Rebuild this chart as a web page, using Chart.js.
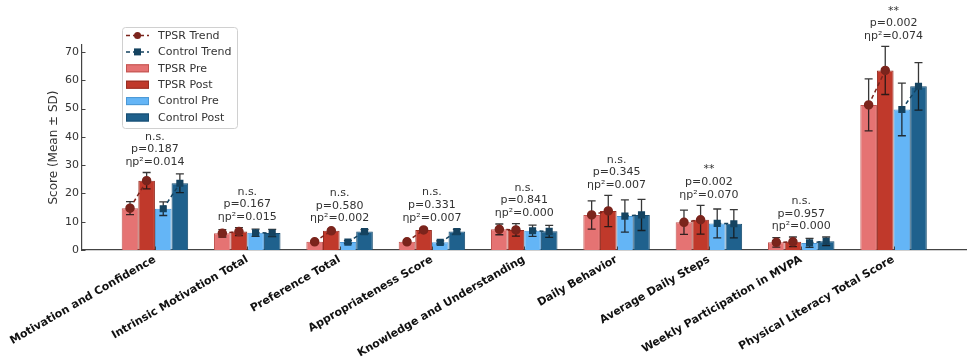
<!DOCTYPE html>
<html>
<head>
<meta charset="utf-8">
<script src="https://cdn.jsdelivr.net/npm/chart.js@4.4.0/dist/chart.umd.min.js"></script>
<style>
  body { margin: 0; background: #fff; }
  #wrap { width: 972px; height: 359px; }
</style>
</head>
<body>
<div id="wrap"><canvas id="grafico" width="972" height="359"></canvas></div>
<script>
// dados
const categorias = ['Motivation and Confidence', 'Intrinsic Motivation Total', 'Preference Total',
  'Appropriateness Score', 'Knowledge and Understanding', 'Daily Behavior', 'Average Daily Steps',
  'Weekly Participation in MVPA', 'Physical Literacy Total Score'];

const tpsrPre = [14.8, 5.9, 2.9, 2.9, 7.3, 12.4, 9.8, 2.7, 51.3];
const tpsrPreSd = [2.3, 1.3, 0.5, 0.5, 1.9, 5.0, 4.3, 1.7, 9.2];
const tpsrPost = [24.5, 6.5, 6.8, 7.1, 7.1, 13.8, 10.7, 2.9, 63.5];
const tpsrPostSd = [2.9, 1.4, 0.6, 0.6, 2.2, 5.5, 5.1, 1.7, 8.5];
const ctrlPre = [14.6, 6.1, 2.8, 2.7, 6.8, 12.0, 9.4, 2.5, 49.7];
const ctrlPreSd = [2.4, 1.3, 0.5, 0.5, 2.0, 5.7, 5.1, 1.6, 9.3];
const ctrlPost = [23.6, 6.0, 6.5, 6.5, 6.6, 12.4, 9.3, 3.1, 57.9];
const ctrlPostSd = [3.3, 1.3, 0.7, 0.8, 2.1, 5.5, 5.0, 1.5, 8.4];

const sig = ['n.s.', 'n.s.', 'n.s.', 'n.s.', 'n.s.', 'n.s.', '**', 'n.s.', '**'];
const pValores = ['0.187', '0.167', '0.580', '0.331', '0.841', '0.345', '0.002', '0.957', '0.002'];
const etaValores = ['0.014', '0.015', '0.002', '0.007', '0.000', '0.007', '0.070', '0.000', '0.074'];

const yTicks = [0, 10, 20, 30, 40, 50, 60, 70];

const larguraGrupo = 0.72; // fração de cada categoria ocupada pelas 4 barras
const offsets = [-1.5, -0.5, 0.5, 1.5].map(k => k * larguraGrupo / 4);

const cores = {
  tpsrPre: '#e57373', tpsrPreBorda: '#c25450',
  tpsrPost: '#c0392b', tpsrPostBorda: '#962d22',
  ctrlPre: '#64b5f6', ctrlPreBorda: '#4b97d4',
  ctrlPost: '#1f618d', ctrlPostBorda: '#184d70',
  tpsrTrend: '#7b241c', ctrlTrend: '#154360'
};

function pontosTrend(pre, post, kPre, kPost) {
  const pts = [];
  pre.forEach((v, i) => {
    pts.push({ x: i + offsets[kPre], y: v });
    pts.push({ x: i + offsets[kPost], y: post[i] });
    pts.push({ x: i + 0.5, y: null });
  });
  return pts;
}

const series = [
  { label: 'TPSR Pre', valores: tpsrPre, sd: tpsrPreSd, cor: cores.tpsrPre, borda: cores.tpsrPreBorda },
  { label: 'TPSR Post', valores: tpsrPost, sd: tpsrPostSd, cor: cores.tpsrPost, borda: cores.tpsrPostBorda },
  { label: 'Control Pre', valores: ctrlPre, sd: ctrlPreSd, cor: cores.ctrlPre, borda: cores.ctrlPreBorda },
  { label: 'Control Post', valores: ctrlPost, sd: ctrlPostSd, cor: cores.ctrlPost, borda: cores.ctrlPostBorda }
];

const datasetsBarras = series.map(s => ({
  type: 'bar',
  label: s.label,
  data: s.valores.map((v, i) => ({ x: i, y: v })),
  backgroundColor: s.cor,
  borderColor: s.borda,
  borderWidth: 1,
  categoryPercentage: larguraGrupo,
  barPercentage: 1.0,
  order: 2,
  sd: s.sd
}));

const datasetsTrend = [
  {
    type: 'line', label: 'TPSR Trend',
    data: pontosTrend(tpsrPre, tpsrPost, 0, 1),
    borderColor: cores.tpsrTrend, backgroundColor: cores.tpsrTrend,
    borderWidth: 1.5, borderDash: [4, 3], pointStyle: 'circle', pointRadius: 4,
    spanGaps: false, order: 0
  },
  {
    type: 'line', label: 'Control Trend',
    data: pontosTrend(ctrlPre, ctrlPost, 2, 3),
    borderColor: cores.ctrlTrend, backgroundColor: cores.ctrlTrend,
    borderWidth: 1.5, borderDash: [4, 3], pointStyle: 'rect', pointRadius: 4,
    spanGaps: false, order: 0
  }
];

// barras de erro desenhadas logo depois de cada dataset de barra
const pluginErro = {
  id: 'barrasErro',
  afterDatasetDraw(chart, args) {
    const ds = chart.data.datasets[args.index];
    if (ds.type !== 'bar') return;
    const y = chart.scales.y;
    const ctx = chart.ctx;
    ctx.save();
    ctx.strokeStyle = 'rgba(20,20,20,0.85)';
    ctx.lineWidth = 1.3;
    args.meta.data.forEach((el, i) => {
      const v = ds.data[i].y, sd = ds.sd[i];
      const y1 = y.getPixelForValue(v + sd), y2 = y.getPixelForValue(v - sd);
      ctx.beginPath();
      ctx.moveTo(el.x, y1); ctx.lineTo(el.x, y2);
      ctx.moveTo(el.x - 4, y1); ctx.lineTo(el.x + 4, y1);
      ctx.moveTo(el.x - 4, y2); ctx.lineTo(el.x + 4, y2);
      ctx.stroke();
    });
    ctx.restore();
  }
};

// textos de significância, ticks para dentro e legenda
const pluginExtras = {
  id: 'extras',
  afterDraw(chart) {
    const ctx = chart.ctx;
    const x = chart.scales.x, y = chart.scales.y;
    const area = chart.chartArea;
    ctx.save();

    // ticks para dentro
    ctx.strokeStyle = '#444';
    ctx.lineWidth = 1;
    yTicks.forEach(t => {
      const py = Math.round(y.getPixelForValue(t)) + 0.5;
      ctx.beginPath(); ctx.moveTo(area.left, py); ctx.lineTo(area.left + 3.5, py); ctx.stroke();
    });
    categorias.forEach((c, i) => {
      const px = Math.round(x.getPixelForValue(i)) + 0.5;
      ctx.beginPath(); ctx.moveTo(px, area.bottom); ctx.lineTo(px, area.bottom - 3.5); ctx.stroke();
    });

    // anotações
    ctx.fillStyle = '#333';
    ctx.font = '11px "DejaVu Sans"';
    ctx.textAlign = 'center';
    ctx.textBaseline = 'bottom';
    categorias.forEach((c, i) => {
      const topo = Math.max(tpsrPre[i] + tpsrPreSd[i], tpsrPost[i] + tpsrPostSd[i],
        ctrlPre[i] + ctrlPreSd[i], ctrlPost[i] + ctrlPostSd[i]);
      const px = x.getPixelForValue(i);
      let py = y.getPixelForValue(topo) - 5;
      ctx.fillText('ηp²=' + etaValores[i], px, py);
      py -= 12.6;
      ctx.fillText('p=' + pValores[i], px, py);
      py -= 12.6;
      ctx.fillText(sig[i], px, py);
    });

    // legenda
    const lx = area.left + 40, ly = 27, lw = 115, lh = 101;
    ctx.fillStyle = 'rgba(255,255,255,0.85)';
    ctx.strokeStyle = '#d0d0d0';
    ctx.lineWidth = 1;
    ctx.beginPath();
    ctx.roundRect(lx + 0.5, ly + 0.5, lw, lh, 3);
    ctx.fill(); ctx.stroke();

    const itens = [
      { label: 'TPSR Trend', tipo: 'linha', cor: cores.tpsrTrend, ponto: 'circle' },
      { label: 'Control Trend', tipo: 'linha', cor: cores.ctrlTrend, ponto: 'rect' },
      { label: 'TPSR Pre', tipo: 'caixa', cor: cores.tpsrPre, borda: cores.tpsrPreBorda },
      { label: 'TPSR Post', tipo: 'caixa', cor: cores.tpsrPost, borda: cores.tpsrPostBorda },
      { label: 'Control Pre', tipo: 'caixa', cor: cores.ctrlPre, borda: cores.ctrlPreBorda },
      { label: 'Control Post', tipo: 'caixa', cor: cores.ctrlPost, borda: cores.ctrlPostBorda }
    ];
    ctx.font = '11px "DejaVu Sans"';
    ctx.textAlign = 'left';
    ctx.textBaseline = 'middle';
    itens.forEach((it, k) => {
      const cy = ly + 8.5 + k * 16.4;
      const hx = lx + 4;
      if (it.tipo === 'linha') {
        ctx.strokeStyle = it.cor;
        ctx.lineWidth = 1.5;
        ctx.setLineDash([4, 3]);
        ctx.beginPath(); ctx.moveTo(hx, cy); ctx.lineTo(hx + 23, cy); ctx.stroke();
        ctx.setLineDash([]);
        ctx.fillStyle = it.cor;
        ctx.beginPath();
        if (it.ponto === 'circle') ctx.arc(hx + 11.5, cy, 3.5, 0, Math.PI * 2);
        else ctx.rect(hx + 8, cy - 3.5, 7, 7);
        ctx.fill();
      } else {
        ctx.fillStyle = it.cor;
        ctx.strokeStyle = it.borda;
        ctx.lineWidth = 1;
        ctx.fillRect(hx, cy - 4, 23, 8);
        ctx.strokeRect(hx + 0.5, cy - 3.5, 22, 7);
      }
      ctx.fillStyle = '#333';
      ctx.fillText(it.label, hx + 32, cy + 0.5);
    });
    ctx.restore();
  }
};

const ctx = document.getElementById('grafico');
new Chart(ctx, {
  type: 'bar',
  data: { datasets: [...datasetsTrend, ...datasetsBarras] },
  options: {
    responsive: false,
    animation: false,
    devicePixelRatio: 1,
    layout: { padding: { top: 45, right: 3, left: 47, bottom: 0 } },
    font: { family: 'DejaVu Sans' },
    plugins: {
      legend: { display: false },
      tooltip: { enabled: false }
    },
    scales: {
      x: {
        type: 'linear',
        offset: false,
        min: -0.79,
        max: 8.79,
        grid: { display: false, drawTicks: false },
        border: { color: '#444', width: 1.2 },
        afterBuildTicks: axis => { axis.ticks = categorias.map((c, i) => ({ value: i })); },
        afterFit: axis => { axis.height = 109; },
        ticks: {
          autoSkip: false,
          minRotation: 30,
          maxRotation: 30,
          padding: 3,
          color: '#111',
          font: { family: 'DejaVu Sans', size: 11, weight: 'bold' },
          callback: v => categorias[v] || ''
        }
      },
      y: {
        min: 0,
        max: 72.5,
        grid: { display: false, drawTicks: false },
        border: { color: '#444', width: 1.2 },
        afterFit: axis => { axis.width = 35; },
        afterBuildTicks: axis => { axis.ticks = yTicks.map(v => ({ value: v })); },
        ticks: {
          padding: 3,
          color: '#333',
          font: { family: 'DejaVu Sans', size: 11 }
        },
        title: {
          display: true,
          text: 'Score (Mean ± SD)',
          color: '#333',
          padding: { top: 0, bottom: 0 },
          font: { family: 'DejaVu Sans', size: 12 }
        }
      }
    }
  },
  plugins: [pluginErro, pluginExtras]
});
</script>
</body>
</html>
